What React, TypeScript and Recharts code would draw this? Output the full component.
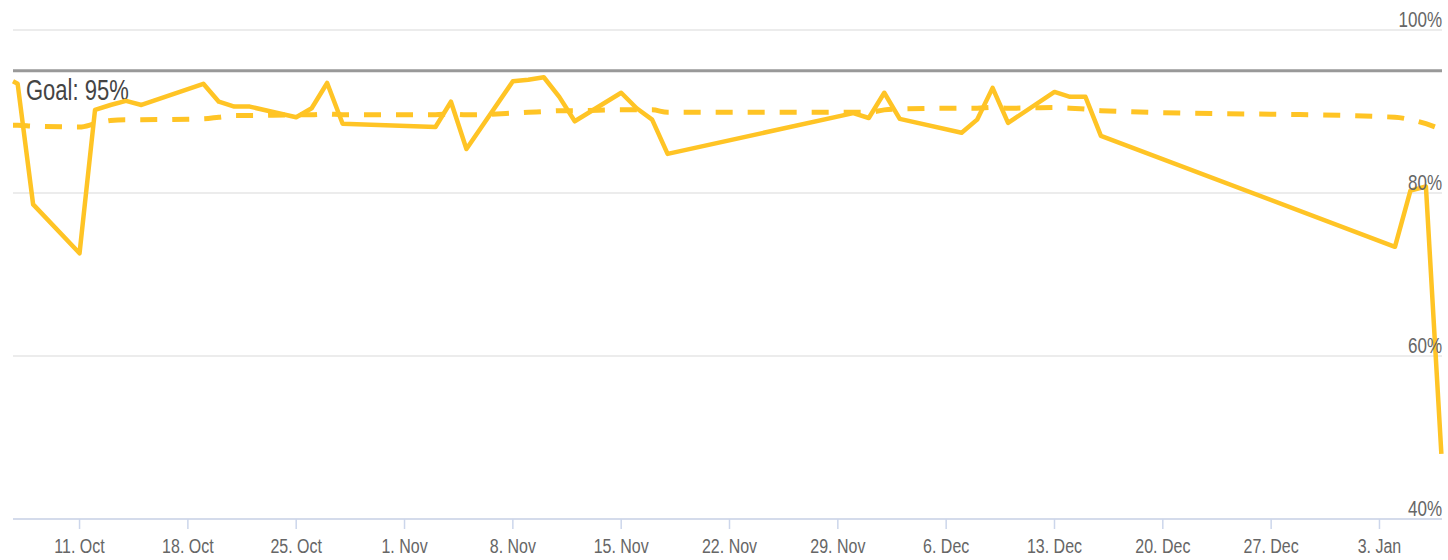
import { LineChart, Line, XAxis, YAxis, CartesianGrid, ReferenceLine } from 'recharts';

// day number counted from 1 Oct (11 Oct = 10)
const days = [5.7, 6, 7, 10, 11, 12, 13, 14, 18, 19, 20, 21, 24, 25, 26, 27, 33, 34, 35, 38, 39, 40, 41, 42, 45, 46, 47, 48, 60, 61, 62, 63, 67, 68, 69, 70, 73, 74, 75, 76, 95, 96, 97, 98];
const rate = [93.7, 93.4, 78.6, 72.6, 90.2, 90.8, 91.3, 90.8, 93.4, 91.2, 90.6, 90.6, 89.3, 90.4, 93.5, 88.5, 88.1, 91.2, 85.4, 93.7, 93.9, 94.2, 91.8, 88.8, 92.3, 90.4, 89.0, 84.8, 89.8, 89.2, 92.3, 89.1, 87.4, 89.0, 92.9, 88.6, 92.4, 91.8, 91.8, 87.0, 73.4, 80.3, 80.8, 48.0];
const average = [88.3, 88.3, 88.2, 88.1, 88.5, 88.9, 89.0, 89.0, 89.1, 89.3, 89.5, 89.5, 89.6, 89.6, 89.7, 89.6, 89.6, 89.7, 89.6, 89.8, 89.9, 90.0, 90.1, 90.1, 90.2, 90.2, 90.2, 89.9, 89.9, 89.9, 90.2, 90.3, 90.4, 90.4, 90.5, 90.4, 90.5, 90.4, 90.3, 90.1, 89.3, 89.0, 88.5, 87.8];

const xTicks = [10, 17, 24, 31, 38, 45, 52, 59, 66, 73, 80, 87, 94];
const xLabels = ['11. Oct', '18. Oct', '25. Oct', '1. Nov', '8. Nov', '15. Nov', '22. Nov', '29. Nov', '6. Dec', '13. Dec', '20. Dec', '27. Dec', '3. Jan'];
const yTicks = [40, 60, 80, 100];
const goal = 95;

const data = days.map((day, i) => ({ day, rate: rate[i], average: average[i] }));

const FONT = 'Arial, "Liberation Sans", Helvetica, sans-serif';
const YELLOW = '#ffc425';

const XTick = ({ x, y, payload }: any) => {
  const label = xLabels[xTicks.indexOf(payload.value)] ?? '';
  return (
    <g transform={`translate(${x},${y + 22}) scale(1,1.3)`}>
      <text textAnchor="middle" fontSize={16} fill="#666" fontFamily={FONT}>
        {label}
      </text>
    </g>
  );
};

const YTick = ({ y, payload }: any) => (
  <g transform={`translate(1442,${y - 3}) scale(1,1.3)`}>
    <text textAnchor="end" fontSize={17} fill="#666" fontFamily={FONT}>
      {payload.value}%
    </text>
  </g>
);

const GoalLabel = ({ viewBox }: any) => {
  if (!viewBox) return null;
  return (
    <g transform={`translate(${viewBox.x + 13},${viewBox.y + 29}) scale(1,1.3)`}>
      <text fontSize={22} fill="#444" fontFamily={FONT}>
        Goal: {goal}%
      </text>
    </g>
  );
};

export default function App() {
  return (
    <div style={{ position: 'absolute', left: 0, top: 0, background: '#fff' }}>
      <LineChart width={1448} height={560} data={data} margin={{ top: 30, right: 0, bottom: 0, left: 13 }}>
        <CartesianGrid horizontal vertical={false} stroke="#e6e6e6" strokeWidth={1.5} />
        <XAxis
          dataKey="day"
          type="number"
          domain={[5.7, 98.04]}
          ticks={xTicks}
          height={41}
          interval={0}
          stroke="#ccd6eb"
          strokeWidth={1.5}
          tickSize={10}
          tickMargin={2}
          tick={<XTick />}
        />
        <YAxis
          orientation="right"
          width={6}
          domain={[40, 100]}
          ticks={yTicks}
          interval={0}
          axisLine={false}
          tickLine={false}
          tick={<YTick />}
        />
        <ReferenceLine y={goal} stroke="#999" strokeWidth={3} label={<GoalLabel />} />
        <Line
          dataKey="average"
          type="monotone"
          stroke={YELLOW}
          strokeWidth={5}
          strokeDasharray="17 15"
          dot={false}
          activeDot={false}
          isAnimationActive={false}
        />
        <Line
          dataKey="rate"
          type="linear"
          stroke={YELLOW}
          strokeWidth={4.5}
          strokeLinejoin="round"
          dot={false}
          activeDot={false}
          isAnimationActive={false}
        />
      </LineChart>
    </div>
  );
}
